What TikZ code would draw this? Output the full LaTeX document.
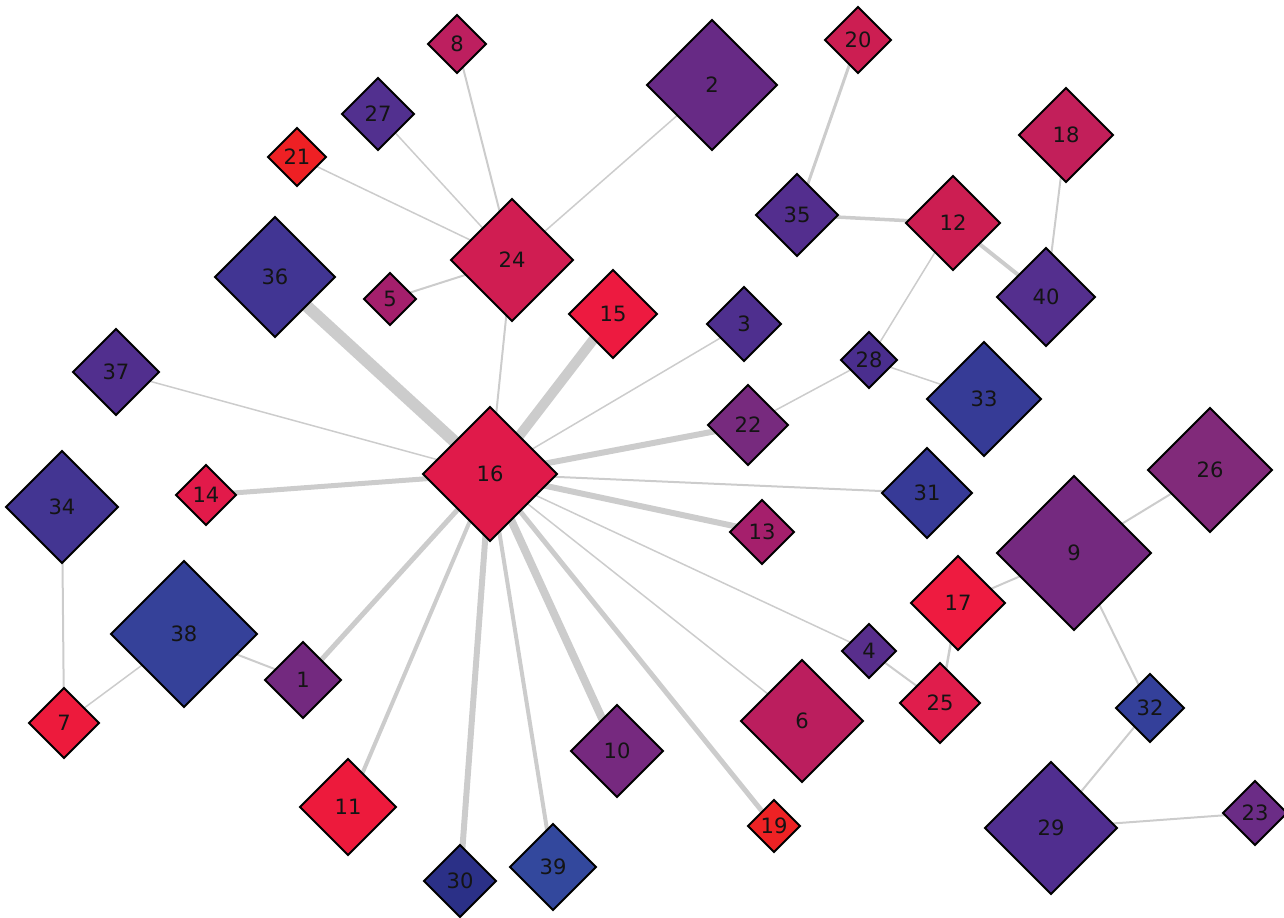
\documentclass[tikz,border=0pt]{standalone}
\usepackage{fontspec}
\setmainfont{DejaVu Sans}
\usepackage{tikz}
\usetikzlibrary{shapes.geometric,backgrounds}
\definecolor{edgegray}{HTML}{CCCCCC}
\definecolor{c1}{HTML}{73297F}
\definecolor{c2}{HTML}{672A85}
\definecolor{c3}{HTML}{4E2F8E}
\definecolor{c4}{HTML}{582E8C}
\definecolor{c5}{HTML}{A41F6C}
\definecolor{c6}{HTML}{BB1E5E}
\definecolor{c7}{HTML}{ED1A3C}
\definecolor{c8}{HTML}{BD1F5F}
\definecolor{c9}{HTML}{74297F}
\definecolor{c10}{HTML}{76297F}
\definecolor{c11}{HTML}{ED1A3C}
\definecolor{c12}{HTML}{CC1E52}
\definecolor{c13}{HTML}{A51F6C}
\definecolor{c14}{HTML}{E21A4A}
\definecolor{c15}{HTML}{ED1A40}
\definecolor{c16}{HTML}{E01A4A}
\definecolor{c17}{HTML}{EE1B40}
\definecolor{c18}{HTML}{C21F5A}
\definecolor{c19}{HTML}{EE2224}
\definecolor{c20}{HTML}{CC1E52}
\definecolor{c21}{HTML}{EE2024}
\definecolor{c22}{HTML}{772A7E}
\definecolor{c23}{HTML}{6B2C86}
\definecolor{c24}{HTML}{D01D52}
\definecolor{c25}{HTML}{E01D4C}
\definecolor{c26}{HTML}{812A7A}
\definecolor{c27}{HTML}{52308F}
\definecolor{c28}{HTML}{4A2E8E}
\definecolor{c29}{HTML}{502E8F}
\definecolor{c30}{HTML}{2B3087}
\definecolor{c31}{HTML}{373A97}
\definecolor{c32}{HTML}{34409A}
\definecolor{c33}{HTML}{363B96}
\definecolor{c34}{HTML}{433592}
\definecolor{c35}{HTML}{532E8E}
\definecolor{c36}{HTML}{413593}
\definecolor{c37}{HTML}{512F8E}
\definecolor{c38}{HTML}{354199}
\definecolor{c39}{HTML}{33489D}
\definecolor{c40}{HTML}{542F8E}

\begin{document}
\begin{tikzpicture}[
  x=0.02cm, y=-0.02cm,
  vertex/.style={diamond, aspect=1, draw=black, line width=1.05pt, inner sep=0, outer sep=0,
    font=\fontsize{12}{14}\selectfont, text=black!92},
  link/.style={draw=edgegray, line cap=butt}
]
\useasboundingbox (0,0) rectangle (1284,917);

% vertices: name/x/y/half-diagonal
\foreach \n/\x/\y/\r in {
  8/457/44/29, 20/858/40/33, 2/712/85/65, 27/378/114/36, 21/297/157/29,
  18/1066/135/47, 35/797/215/41, 12/953/223/47, 24/512/260/61, 36/275/277/60,
  5/390/299/26, 15/613/314/44, 40/1046/297/49, 3/744/324/37, 28/869/360/28,
  37/116/372/43, 33/984/399/57, 22/748/425/40, 16/490/474/67, 14/206/495/30,
  31/927/493/45, 26/1210/470/62, 34/62/507/56, 13/762/532/32, 9/1074/553/77,
  17/958/603/47, 38/184/634/73, 4/869/651/27, 1/303/680/38, 25/940/703/40,
  7/64/723/35, 6/802/721/61, 32/1150/708/34, 10/617/751/46, 11/348/807/48,
  19/774/826/26, 29/1051/828/66, 23/1255/813/32, 30/460/881/36, 39/553/867/43}{
  \node[vertex, fill=c\n, minimum size=2*\r*0.02cm] (n\n) at (\x,\y) {\n};
}

% links, width in px
\begin{pgfonlayer}{background}
\foreach \a/\b/\w in {
  16/36/12, 16/15/10, 16/10/8, 16/22/6, 16/13/6, 16/30/6, 16/14/5, 16/19/5,
  16/1/5, 16/11/4, 16/39/4, 16/24/2, 16/3/1.5, 16/37/1.5, 16/31/2, 16/4/1.5,
  16/6/1.5, 24/8/2, 24/27/1.5, 24/21/1.5, 24/2/1.5, 24/5/2,
  20/35/3, 35/12/3.5, 12/40/4, 18/40/2, 12/28/1.5, 28/22/1.5, 28/33/1.5,
  34/7/2, 38/7/1.5, 38/1/2, 9/26/2, 9/17/2, 9/32/2, 17/25/2.5, 4/25/2,
  32/29/2, 29/23/2}{
  \draw[link, line width=\w*0.02cm] (n\a.center) -- (n\b.center);
}
\end{pgfonlayer}
\end{tikzpicture}
\end{document}
